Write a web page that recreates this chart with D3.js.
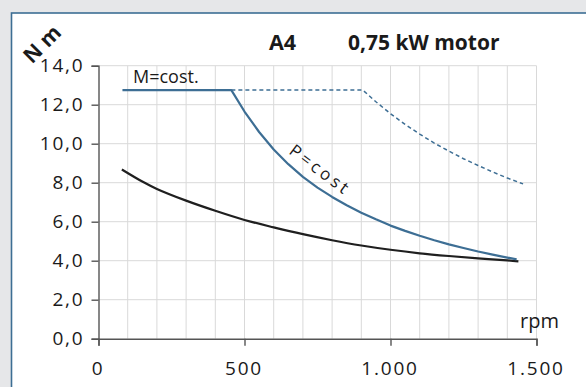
<!DOCTYPE html>
<html><head><meta charset="utf-8">
<script src="https://cdn.jsdelivr.net/npm/d3@7"></script>
<style>
html,body{margin:0;padding:0;background:#e6e7e9;}
svg{display:block;}
text{font-family:"Open Sans",sans-serif;fill:#1a1a1a;}
</style></head>
<body>
<svg id="c" width="586" height="387"></svg>
<script>
// ---- data ----
const yTickValues = [0, 2, 4, 6, 8, 10, 12, 14];
const yTickLabels = ["0,0", "2,0", "4,0", "6,0", "8,0", "10,0", "12,0", "14,0"];
const xTickValues = [0, 500, 1000, 1500];
const xTickLabels = ["0", "500", "1.000", "1.500"];
const xGridValues = [100,200,300,400,500,600,700,800,900,1000,1100,1200,1300,1400,1500];

// blue solid: M=cost then P=cost
const blueRpm = [82, 455, 500, 550, 600, 650, 700, 750, 800, 850, 900, 950, 1000, 1050, 1100, 1150, 1200, 1250, 1300, 1350, 1400, 1432];
const blueNm  = [12.75, 12.75, 11.65, 10.6, 9.7, 8.95, 8.3, 7.75, 7.27, 6.84, 6.46, 6.12, 5.8, 5.53, 5.28, 5.05, 4.84, 4.65, 4.47, 4.31, 4.16, 4.07];
// blue dotted: extended range
const dashRpm = [455, 905, 950, 1000, 1050, 1100, 1150, 1200, 1250, 1300, 1350, 1400, 1454];
const dashNm  = [12.75, 12.75, 12.15, 11.54, 10.99, 10.49, 10.03, 9.62, 9.23, 8.88, 8.55, 8.24, 7.94];
// black: load curve
const blackRpm = [80, 150, 200, 300, 400, 500, 600, 700, 800, 900, 1000, 1100, 1200, 1300, 1400, 1438];
const blackNm  = [8.68, 8.06, 7.68, 7.08, 6.56, 6.09, 5.71, 5.36, 5.05, 4.78, 4.56, 4.38, 4.24, 4.12, 4.02, 3.97];

const titleLeft = "A4";
const titleRight = "0,75 kW motor";
const yUnit = "N m";
const xUnit = "rpm";
const labelM = "M=cost.";
const labelP = "P=cost";

// ---- drawing ----
const svg = d3.select("#c");
svg.append("rect").attr("x",0).attr("y",0).attr("width",586).attr("height",387).attr("fill","#e6e7e9");
svg.append("rect").attr("x",11.5).attr("y",13).attr("width",600).attr("height",400)
  .attr("fill","#fff").attr("stroke","#3d6e94").attr("stroke-width",1.6);

const x = d3.scaleLinear().domain([0,1500]).range([98.5,536.5]);
const y = d3.scaleLinear().domain([0,14]).range([338.7,65.7]);

const grid = svg.append("g").attr("stroke","#d9d9d9").attr("stroke-width",1);
grid.selectAll("line.v").data(xGridValues).join("line")
  .attr("x1",d=>x(d)).attr("x2",d=>x(d)).attr("y1",y(0)).attr("y2",y(14));
grid.selectAll("line.h").data(yTickValues.slice(1)).join("line")
  .attr("x1",x(0)).attr("x2",x(1500)).attr("y1",d=>y(d)).attr("y2",d=>y(d));

// axes
const yAxis = d3.axisLeft(y).tickValues(yTickValues).tickSize(7).tickPadding(7)
  .tickFormat((d,i)=>yTickLabels[i]);
const gy = svg.append("g").attr("transform",`translate(${x(0)},0)`).call(yAxis);
const xAxis = d3.axisBottom(x).tickValues(xTickValues).tickSize(7).tickPadding(16)
  .tickFormat((d,i)=>xTickLabels[i]);
const gx = svg.append("g").attr("transform",`translate(0,${y(0)})`).call(xAxis);
[gx,gy].forEach(g=>{
  g.select(".domain").attr("stroke","#555").attr("stroke-width",1.4);
  g.selectAll(".tick line").attr("stroke","#555").attr("stroke-width",1.4);
  g.selectAll(".tick text").attr("font-family","Open Sans, sans-serif").attr("font-size",19)
    .attr("fill","#1a1a1a").attr("letter-spacing",1.8);
});
gx.selectAll(".tick text").attr("dx",-1);

// lines
const line = d3.line().x(d=>x(d[0])).y(d=>y(d[1]));
const smooth = d3.line().x(d=>x(d[0])).y(d=>y(d[1])).curve(d3.curveCatmullRom.alpha(0.5));
svg.append("path").attr("d",line(dashRpm.map((r,i)=>[r,dashNm[i]])))
  .attr("fill","none").attr("stroke","#3d6e94").attr("stroke-width",1.5).attr("stroke-dasharray","4,3");
svg.append("path").attr("d",smooth(blackRpm.map((r,i)=>[r,blackNm[i]])))
  .attr("fill","none").attr("stroke","#1f1f1f").attr("stroke-width",2.2);
svg.append("path").attr("d",line(blueRpm.map((r,i)=>[r,blueNm[i]])))
  .attr("fill","none").attr("stroke","#3d6e94").attr("stroke-width",2.2).attr("stroke-linejoin","round");

// texts
svg.append("text").attr("x",269).attr("y",50).attr("font-size",21.5).attr("font-weight","bold").text(titleLeft);
svg.append("text").attr("x",348).attr("y",50).attr("font-size",21).attr("font-weight","bold").text(titleRight);
svg.append("text").attr("transform","translate(42,44) rotate(-45)").attr("text-anchor","middle")
  .attr("dy","0.35em").attr("font-size",21).attr("font-weight","bold").text(yUnit);
svg.append("text").attr("x",133).attr("y",83).attr("font-size",18).text(labelM);
svg.append("text").attr("x",520).attr("y",328).attr("font-size",20).text(xUnit);
svg.append("text").attr("transform","translate(288,153) rotate(37)").attr("font-size",17)
  .attr("letter-spacing",3.3).text(labelP);
</script>
</body></html>
